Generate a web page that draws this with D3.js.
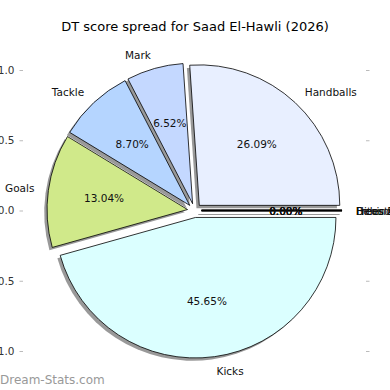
<!DOCTYPE html>
<html><head><meta charset="utf-8">
<script src="https://cdn.jsdelivr.net/npm/d3@7"></script>
<style>html,body{margin:0;padding:0;background:#fff;}svg{display:block;font-family:"DejaVu Sans",sans-serif;}</style>
</head><body>
<svg id="c" width="390" height="390"></svg>
<script>
const categories = ["Handballs","Mark","Tackle","Goals","Kicks","Hitouts","Frees For","Frees Against","Behinds"];
const values = [12, 3, 4, 6, 21, 0, 0, 0, 0];
const colors = ["#e8efff","#c4d8ff","#b5d5ff","#d0e98a","#dbffff","#e0e0ff","#ffe0e0","#e0ffe0","#fff0d0"];
const yTicks = [-1.0, -0.5, 0.0, 0.5, 1.0];
const titleText = "DT score spread for Saad El-Hawli (2026)";

const svg = d3.select("#c");
const y = d3.scaleLinear().domain([-1, 1]).range([351, 70]);
const unit = y(0) - y(1);
const x = d3.scaleLinear().domain([-1, 1]).range([194.5 - unit, 194.5 + unit]);
const R = unit;
const explode = 0.05, shadowOff = 0.02;

const total = d3.sum(values);
const pie = d3.pie().sort(null).value(d => d).startAngle(Math.PI/2).endAngle(Math.PI/2 - 2*Math.PI);
const arcs = pie(values);
const arc = d3.arc().innerRadius(0).outerRadius(R);

// axes
const axL = d3.axisLeft(y).tickValues(yTicks).tickFormat(d3.format(".1f")).tickSize(3.5).tickPadding(5);
const gL = svg.append("g").attr("transform", "translate(23,0)").call(axL);
gL.select(".domain").remove();
gL.selectAll("line").attr("stroke", "#bbb");
gL.selectAll("text").attr("fill", "#333").style("font-size", "10.5px").style("font-family", "DejaVu Sans");
const axR = d3.axisRight(y).tickValues(yTicks).tickFormat("").tickSize(3.5);
const gR = svg.append("g").attr("transform", "translate(366,0)").call(axR);
gR.select(".domain").remove();
gR.selectAll("line").attr("stroke", "#bbb");

const g = svg.append("g");
arcs.forEach((a, i) => {
  const mid = (a.startAngle + a.endAngle) / 2;
  const dx = Math.sin(mid) * explode * R, dy = -Math.cos(mid) * explode * R;
  const cx = x(0) + dx, cy = y(0) + dy;
  const sx = -shadowOff * R, sy = shadowOff * R;
  if (a.value === 0) {
    const ex = Math.sin(a.startAngle) * R, ey = -Math.cos(a.startAngle) * R;
    g.append("line").attr("x1", cx + sx).attr("y1", cy + sy + 1.2).attr("x2", cx + ex + sx).attr("y2", cy + ey + sy + 1.2)
      .attr("stroke", "#999").attr("stroke-width", 1.2);
    g.append("line").attr("x1", cx).attr("y1", cy).attr("x2", cx + ex).attr("y2", cy + ey)
      .attr("stroke", "#000").attr("stroke-width", 1.4);
  } else {
    g.append("path").attr("d", arc(a)).attr("transform", `translate(${cx + sx},${cy + sy})`)
      .attr("fill", "#000").attr("fill-opacity", 0.4);
  }
});
arcs.forEach((a, i) => {
  if (a.value === 0) return;
  const mid = (a.startAngle + a.endAngle) / 2;
  const cx = x(0) + Math.sin(mid) * explode * R, cy = y(0) - Math.cos(mid) * explode * R;
  g.append("path").attr("d", arc(a)).attr("transform", `translate(${cx},${cy})`)
    .attr("fill", colors[i]).attr("stroke", "#000").attr("stroke-width", 0.8).attr("stroke-linejoin", "round");
});
// labels
arcs.forEach((a, i) => {
  const mid = (a.startAngle + a.endAngle) / 2;
  const cx = x(0) + Math.sin(mid) * explode * R, cy = y(0) - Math.cos(mid) * explode * R;
  const s = Math.sin(mid), c = -Math.cos(mid);
  svg.append("text").attr("x", cx + s * 1.1 * R).attr("y", cy + c * 1.1 * R)
    .attr("text-anchor", s >= -1e-9 ? "start" : "end").attr("dominant-baseline", "central")
    .style("font-size", "10.5px").attr("fill", "#111").text(categories[i]);
  svg.append("text").attr("x", cx + s * 0.6 * R).attr("y", cy + c * 0.6 * R)
    .attr("text-anchor", "middle").attr("dominant-baseline", "central")
    .style("font-size", "10.5px").attr("fill", "#111").text((a.value / total * 100).toFixed(2) + "%");
});

svg.append("text").attr("x", 195).attr("y", 26).attr("text-anchor", "middle").attr("dominant-baseline", "central")
  .style("font-size", "13px").attr("fill", "#000").text(titleText);
svg.append("text").attr("x", 0).attr("y", 380).attr("dominant-baseline", "central")
  .style("font-size", "12px").attr("fill", "#999").text("Dream-Stats.com");
</script>
</body></html>
